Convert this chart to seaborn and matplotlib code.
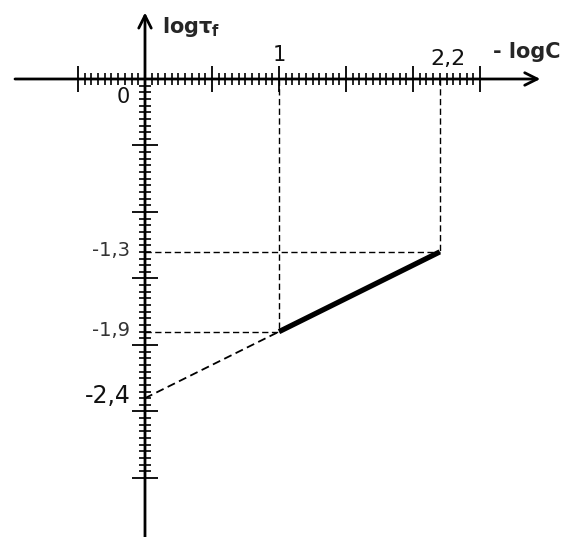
import numpy as np
import matplotlib
matplotlib.use("Agg")
import matplotlib.pyplot as plt
import seaborn as sns

sns.set_style("white")
plt.rcParams['font.family'] = ['DejaVu Sans']
plt.rcParams['mathtext.fontset'] = 'dejavusans'

# measured points (x = -logC, y = log tau_f)
x_meas = [1.0, 2.2]
y_meas = [-1.9, -1.3]
# extrapolation back to the y axis
x_ext = [0.0, 1.0]
y_ext = [-2.4, -1.9]
x_labels = ['1', '2,2']
y_labels = ['-1,3', '-1,9', '-2,4']

fig = plt.figure(figsize=(5.84, 5.37), dpi=100)
ax = fig.add_axes([0, 0, 1, 1])
ax.set_xlim(-1.082, 3.276)
ax.set_ylim(-3.444, 0.594)

# axes through the origin, ticks only, spines hidden
for side in ['left', 'bottom']:
    ax.spines[side].set_position(('data', 0))
    ax.spines[side].set_visible(False)
for side in ['right', 'top']:
    ax.spines[side].set_visible(False)

ax.set_xticks(np.arange(-0.5, 2.51, 0.5))
ax.set_xticks(np.arange(-0.5, 2.51, 0.05), minor=True)
ax.set_yticks(np.arange(-3.0, 0.01, 0.5))
ax.set_yticks(np.arange(-3.0, 0.01, 0.05), minor=True)
ax.tick_params(which='both', bottom=True, left=True, top=False, right=False,
               labelbottom=False, labelleft=False, direction='inout', color='black')
ax.tick_params(which='major', length=19, width=1.3)
ax.tick_params(which='minor', length=8, width=1.2)

# axis lines with arrows
arrow = dict(arrowstyle='->,head_length=0.9,head_width=0.45', lw=2, color='black',
             shrinkA=0, shrinkB=0)
ax.annotate('', xy=(2.95, 0), xytext=(-0.97, 0), arrowprops=arrow)
ax.annotate('', xy=(0, 0.5), xytext=(0, -3.444), arrowprops=arrow)

# guide lines
dash = dict(color='black', lw=1.0, dashes=(4.5, 2.5))
for xv, yv in zip(x_meas, y_meas):
    ax.plot([xv, xv], [0, yv], **dash)
    ax.plot([0, xv], [yv, yv], **dash)
sns.lineplot(x=x_ext, y=y_ext, ax=ax, color='black', lw=1.3, dashes=False,
             linestyle=(0, (4.5, 2.5)))
sns.lineplot(x=x_meas, y=y_meas, ax=ax, color='black', lw=3.8, solid_capstyle='butt')

# labels
ax.text(-0.164, -0.139, '0', fontsize=15, ha='center', va='center', color='#111')
ax.text(x_meas[0], 0.18, x_labels[0], fontsize=15, ha='center', va='center', color='#111')
ax.text(x_meas[1] + 0.06, 0.15, x_labels[1], fontsize=16, ha='center', va='center',
        color='#111')
for yv, lab in zip([-1.3, -1.9, -2.4], y_labels):
    big = lab == '-2,4'
    ax.text(-0.11, yv + (0.02 if big else 0.01), lab, fontsize=17 if big else 14,
            ha='right', va='center', color='#111' if big else '#333')

ax.text(0.13, 0.39, r'$\mathbf{log\tau_f}$', fontsize=15, ha='left', va='center')
ax.text(2.6, 0.2, '- logC', fontsize=15, fontweight='bold', ha='left', va='center')

fig.savefig('out.png', dpi=100)
